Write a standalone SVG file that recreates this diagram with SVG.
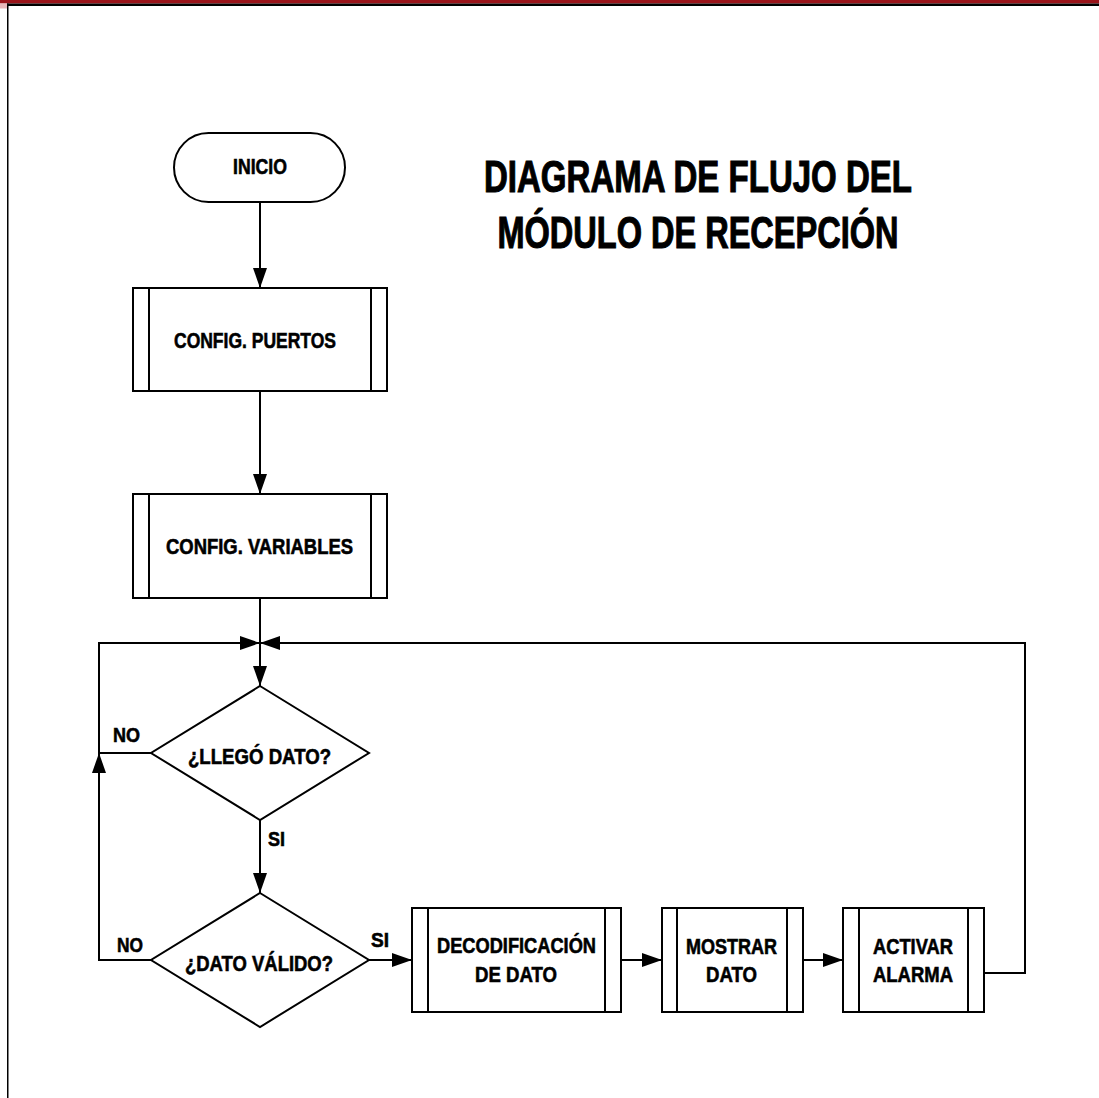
<svg xmlns="http://www.w3.org/2000/svg" width="1099" height="1098" viewBox="0 0 1099 1098">
<style>
.s{fill:#fff;stroke:#000;stroke-width:2}
.l{fill:none;stroke:#000;stroke-width:2}
.c{fill:none;stroke:#000;stroke-width:2}
.t{font-family:"Liberation Sans",Arial,sans-serif;font-weight:bold;font-size:22px;fill:#000;stroke:#000;stroke-width:0.6;text-anchor:middle}
.lb{font-family:"Liberation Sans",Arial,sans-serif;font-weight:bold;font-size:21px;fill:#000;stroke:#000;stroke-width:0.6}
.h{font-family:"Liberation Sans",Arial,sans-serif;font-weight:bold;font-size:45px;fill:#000;stroke:#000;stroke-width:1.1;text-anchor:middle}
</style>
<defs>
<marker id="ah" markerUnits="userSpaceOnUse" markerWidth="20" markerHeight="14" refX="20" refY="7" orient="auto">
<path d="M0,0 L20,7 L0,14 z" fill="#000"/>
</marker>
</defs>
<rect x="0" y="0" width="1099" height="1098" fill="#fff"/>
<g id="frame">
<rect x="0" y="0" width="1099" height="3.5" fill="#9a141a"/>
<rect x="0" y="3.5" width="7" height="5" fill="#e8b8ba"/>
<rect x="7" y="3.5" width="1092" height="2.5" fill="#000"/>
<rect x="7" y="3.5" width="1.5" height="1095" fill="#000"/>
</g>
<g id="title">
<text class="h" x="698" y="192" textLength="428" lengthAdjust="spacingAndGlyphs">DIAGRAMA DE FLUJO DEL</text>
<text class="h" x="698" y="248" textLength="401" lengthAdjust="spacingAndGlyphs">MÓDULO DE RECEPCIÓN</text>
</g>
<g id="connectors">
<path class="c" d="M260,202 V288" marker-end="url(#ah)"/>
<path class="c" d="M260,391 V494" marker-end="url(#ah)"/>
<path class="c" d="M260,598 V686" marker-end="url(#ah)"/>
<path class="c" d="M151,753 H99 V643 H260" marker-end="url(#ah)"/>
<path class="c" d="M151,960 H99 V753" marker-end="url(#ah)"/>
<path class="c" d="M260,820 V893" marker-end="url(#ah)"/>
<path class="c" d="M369,960 H412" marker-end="url(#ah)"/>
<path class="c" d="M621,960 H662" marker-end="url(#ah)"/>
<path class="c" d="M803,960 H843" marker-end="url(#ah)"/>
<path class="c" d="M984,973 H1025 V643 H260" marker-end="url(#ah)"/>
<text class="lb" x="113" y="742" textLength="27" lengthAdjust="spacingAndGlyphs">NO</text>
<text class="lb" x="268" y="846" textLength="17" lengthAdjust="spacingAndGlyphs">SI</text>
<text class="lb" x="117" y="952" textLength="26" lengthAdjust="spacingAndGlyphs">NO</text>
<text class="lb" x="371" y="947" textLength="18" lengthAdjust="spacingAndGlyphs">SI</text>
</g>
<g id="inicio">
<rect class="s" x="174" y="133" width="171" height="69" rx="34.5" ry="34.5"/>
<text class="t" x="260" y="174" textLength="54" lengthAdjust="spacingAndGlyphs">INICIO</text>
</g>
<g id="config-puertos">
<rect class="s" x="133" y="288" width="254" height="103"/>
<path class="l" d="M149,288 V391 M371,288 V391"/>
<text class="t" x="255" y="348" textLength="162" lengthAdjust="spacingAndGlyphs">CONFIG. PUERTOS</text>
</g>
<g id="config-variables">
<rect class="s" x="133" y="494" width="254" height="104"/>
<path class="l" d="M149,494 V598 M371,494 V598"/>
<text class="t" x="259.5" y="554" textLength="187" lengthAdjust="spacingAndGlyphs">CONFIG. VARIABLES</text>
</g>
<g id="llego-dato">
<polygon class="s" points="260,686 369,753 260,820 151,753"/>
<text class="t" x="259.5" y="764" textLength="143" lengthAdjust="spacingAndGlyphs">¿LLEGÓ DATO?</text>
</g>
<g id="dato-valido">
<polygon class="s" points="260,893 369,960 260,1027 151,960"/>
<text class="t" x="259" y="971" textLength="148" lengthAdjust="spacingAndGlyphs">¿DATO VÁLIDO?</text>
</g>
<g id="decodificacion">
<rect class="s" x="412" y="908" width="209" height="104"/>
<path class="l" d="M428,908 V1012 M605,908 V1012"/>
<text class="t" x="516.5" y="953" textLength="159" lengthAdjust="spacingAndGlyphs">DECODIFICACIÓN</text>
<text class="t" x="516" y="982" textLength="82" lengthAdjust="spacingAndGlyphs">DE DATO</text>
</g>
<g id="mostrar">
<rect class="s" x="662" y="908" width="141" height="104"/>
<path class="l" d="M677,908 V1012 M787,908 V1012"/>
<text class="t" x="731.5" y="954" textLength="91" lengthAdjust="spacingAndGlyphs">MOSTRAR</text>
<text class="t" x="731.5" y="982" textLength="51" lengthAdjust="spacingAndGlyphs">DATO</text>
</g>
<g id="activar">
<rect class="s" x="843" y="908" width="141" height="104"/>
<path class="l" d="M859,908 V1012 M968,908 V1012"/>
<text class="t" x="913" y="954" textLength="80" lengthAdjust="spacingAndGlyphs">ACTIVAR</text>
<text class="t" x="913" y="982" textLength="80" lengthAdjust="spacingAndGlyphs">ALARMA</text>
</g>
</svg>
